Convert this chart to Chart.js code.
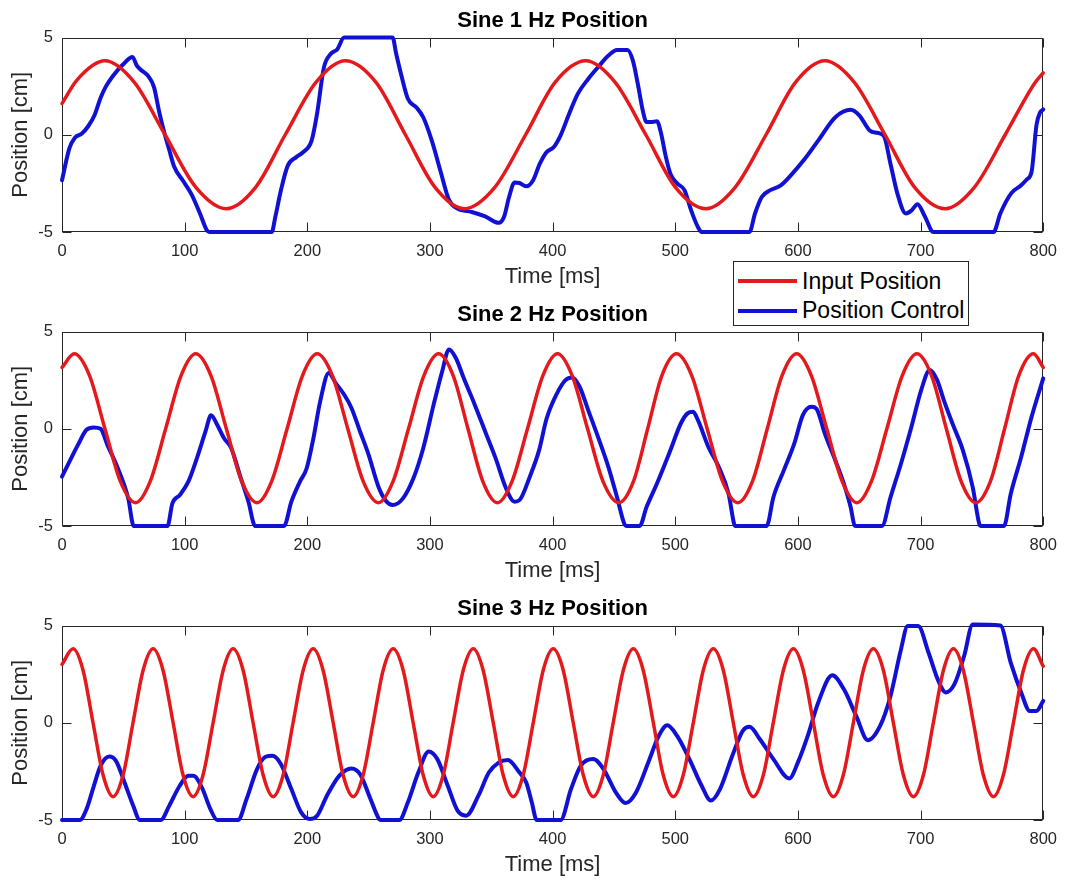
<!DOCTYPE html>
<html>
<head>
<meta charset="utf-8">
<script src="https://cdn.jsdelivr.net/npm/chart.js@4.4.1/dist/chart.umd.min.js"></script>
<style>
  html, body { margin: 0; padding: 0; background: #fff; }
  #page { position: relative; width: 1067px; height: 883px; overflow: hidden; }
  #page canvas { position: absolute; left: 0; }
  #legend {
    position: absolute; left: 733px; top: 261px; width: 236px; height: 65px;
    box-sizing: border-box; border: 1px solid #262626; background: #fff; z-index: 5;
    font-family: "Liberation Sans", Arial, Helvetica, sans-serif; font-size: 23px; color: #000;
  }
  .leg-row { position: absolute; left: 0; height: 26px; display: flex; align-items: center; }
  .leg-line { width: 59px; height: 4px; margin-left: 4px; margin-right: 5px; }
</style>
</head>
<body>
<div id="page">
  <canvas id="c1" width="1067" height="294" style="top:0"></canvas>
  <canvas id="c2" width="1067" height="294" style="top:294px"></canvas>
  <canvas id="c3" width="1067" height="294" style="top:588px"></canvas>
  <div id="legend"></div>
</div>
<script>
// ── data (time in ms, position in cm) ──
const X_TICKS = [0, 100, 200, 300, 400, 500, 600, 700, 800];
const Y_TICKS = [-5, 0, 5];
const TITLES  = ['Sine 1 Hz Position', 'Sine 2 Hz Position', 'Sine 3 Hz Position'];
const SERIES  = ['Input Position', 'Position Control'];

// Sine 1 Hz
const s1InT  = [0, 12, 35, 59, 84, 109, 134, 158, 182, 207, 231, 256, 280, 304, 328, 353, 378, 402, 427, 451, 476, 500, 525, 549, 574, 598, 622, 646, 671, 695, 720, 744, 769, 793, 800];
const s1InV  = [1.6, 2.8, 3.8, 2.69, 0, -2.69, -3.8, -2.69, 0, 2.69, 3.8, 2.69, 0, -2.69, -3.8, -2.69, 0, 2.69, 3.8, 2.69, 0, -2.69, -3.8, -2.69, 0, 2.69, 3.8, 2.69, 0, -2.69, -3.8, -2.69, 0, 2.65, 3.18];
const s1OutT = [0, 6, 10.5, 16, 21.5, 26.5, 31.5, 35.5, 42.5, 49.5, 57.5, 61, 65, 70.5, 75, 79, 83, 87.5, 91.5, 98.5, 105.5, 112.5, 118, 120, 171, 174, 178.5, 184, 191, 196.5, 203.5, 208, 213.5, 219, 224.5, 230, 269.5, 272.5, 276.5, 282, 289, 294.5, 301.5, 308.5, 315.5, 322.5, 334, 345, 356, 360.5, 364.5, 369, 373, 378.5, 384, 389.5, 395, 401, 406.5, 413.5, 420.5, 429, 437, 445.5, 452.5, 461, 465.5, 469.5, 473.5, 476.5, 480.5, 485, 488.5, 492, 496, 501.5, 507.5, 513, 518.5, 521.5, 560.5, 565, 570.5, 577.5, 586, 594, 605.5, 616.5, 630.5, 643, 650, 658.5, 664.5, 670, 675.5, 681, 688, 692.5, 697.5, 703.5, 710.5, 759.5, 765, 774, 782, 786.5, 790.5, 794.5, 797.5, 800];
const s1OutV = [-2.34, -0.7, -0.15, 0.05, 0.45, 1.0, 1.9, 2.45, 3.1, 3.6, 4.0, 3.55, 3.3, 3.0, 2.45, 1.25, 0.2, -0.8, -1.65, -2.35, -3.05, -4.05, -4.9, -5, -5, -4.2, -2.85, -1.6, -1.15, -0.9, -0.3, 1.1, 3.45, 4.15, 4.4, 5, 5, 4.15, 3.1, 1.85, 1.4, 0.9, -0.3, -1.85, -3.35, -3.8, -3.97, -4.2, -4.53, -4.2, -3.2, -2.45, -2.48, -2.65, -2.35, -1.5, -0.9, -0.63, -0.03, 1.08, 2.1, 2.87, 3.47, 4.07, 4.36, 4.36, 3.8, 2.6, 1.25, 0.65, 0.65, 0.7, 0.05, -1.05, -2.0, -2.5, -2.85, -3.9, -4.75, -5, -5, -4.05, -3.2, -2.85, -2.6, -2.1, -1.25, -0.3, 0.9, 1.28, 1.0, 0.22, 0.1, -0.05, -1.5, -3.0, -4.05, -3.9, -3.57, -4.2, -5, -5, -4.05, -3.0, -2.6, -2.3, -1.9, 0.5, 1.15, 1.3];

// Sine 2 Hz
const s2InT  = [0, 10, 22.5, 35, 47.5, 60, 72, 84.5, 97, 109, 121.5, 134, 146.5, 159, 171, 183.5, 196, 208, 220.5, 233, 245.5, 258, 270, 282.5, 295, 307, 319, 331, 343, 355, 367, 379.5, 392, 404, 416, 428.5, 441, 454, 466, 477.5, 489, 501, 513.5, 526, 538.5, 551, 563, 575, 587, 599, 611, 623.5, 636, 648, 660, 672.5, 685, 697, 709, 721, 733, 745, 757, 768.5, 780, 792, 800];
const s2InV  = [3.15, 3.85, 2.72, 0, -2.69, -3.8, -2.69, 0, 2.72, 3.85, 2.72, 0, -2.69, -3.8, -2.69, 0, 2.72, 3.85, 2.72, 0, -2.69, -3.8, -2.69, 0, 2.72, 3.85, 2.72, 0, -2.69, -3.8, -2.69, 0, 2.72, 3.85, 2.72, 0, -2.69, -3.8, -2.69, 0, 2.72, 3.85, 2.72, 0, -2.69, -3.8, -2.69, 0, 2.72, 3.85, 2.72, 0, -2.69, -3.8, -2.69, 0, 2.72, 3.85, 2.72, 0, -2.69, -3.8, -2.69, 0, 2.72, 3.85, 3.15];
const s2OutT = [0, 6, 13, 20, 26, 31.5, 37, 45.5, 54, 58.5, 86, 90, 96, 103, 110, 117, 121.5, 126.5, 132, 138, 145, 152, 157.5, 181, 187, 194, 199.5, 205, 210.5, 217.5, 223, 230, 236, 243, 250, 258, 264, 269.5, 278, 286.5, 294.5, 303, 310, 315.5, 321, 328, 336.5, 345, 353.5, 362, 369, 373, 381.5, 389, 395, 403.5, 410.5, 416, 422, 429, 437, 445.5, 452.5, 458.5, 460, 471, 476.5, 485, 496, 504.5, 510, 514.5, 518.5, 527, 535.5, 543.5, 548, 549, 574.5, 580, 588.5, 597, 604, 611, 615, 622, 630.5, 637.5, 643, 646, 647, 668.5, 675.5, 684, 692.5, 700.5, 707.5, 713.5, 719, 726, 734.5, 742.5, 748, 749, 768, 773.5, 782, 790.5, 800];
const s2OutV = [-2.46, -1.7, -0.83, -0.05, 0.07, 0.0, -0.83, -2.03, -3.58, -5, -5, -3.84, -3.41, -2.72, -1.51, -0.14, 0.69, 0.21, -0.48, -1.0, -2.38, -3.75, -5, -5, -3.75, -2.72, -2.03, -0.48, 1.41, 2.87, 2.36, 1.76, 1.07, -0.14, -1.34, -2.98, -3.7, -3.92, -3.58, -2.55, -1.0, 1.24, 2.96, 4.08, 3.65, 2.53, 1.24, -0.14, -1.51, -3.06, -3.75, -3.67, -2.45, -1.1, 0.5, 1.81, 2.5, 2.64, 2.16, 0.96, -0.42, -1.97, -3.52, -4.9, -5, -5, -4.04, -2.83, -1.11, 0.27, 0.79, 0.87, 0.44, -0.94, -1.97, -3.35, -4.9, -5, -5, -3.52, -2.14, -0.77, 0.7, 1.13, 1.04, -0.26, -1.63, -2.83, -4.04, -4.95, -5, -5, -3.52, -1.8, 0.09, 1.99, 3.02, 2.5, 1.46, 0.27, -1.11, -3.0, -4.93, -5, -5, -3.35, -1.45, 0.61, 2.59];

// Sine 3 Hz
const s3InT  = [0, 9, 17.2, 25.3, 33.5, 41.6, 49.8, 57.9, 66.1, 74.3, 82.4, 90.6, 98.7, 106.9, 115, 123.2, 131.4, 139.5, 147.7, 155.8, 164, 172.1, 180.3, 188.4, 196.6, 204.8, 212.9, 221.1, 229.2, 237.4, 245.5, 253.7, 261.8, 270, 278.2, 286.3, 294.5, 302.6, 310.8, 318.9, 327.1, 335.3, 343.4, 351.6, 359.7, 367.9, 376, 384.2, 392.3, 400.5, 408.7, 416.8, 425, 433.1, 441.3, 449.4, 457.6, 465.8, 473.9, 482.1, 490.2, 498.4, 506.5, 514.7, 522.8, 531, 539.2, 547.3, 555.5, 563.6, 571.8, 579.9, 588.1, 596.3, 604.4, 612.6, 620.7, 628.9, 637, 645.2, 653.3, 661.5, 669.7, 677.8, 686, 694.1, 702.3, 710.4, 718.6, 726.8, 734.9, 743.1, 751.2, 759.4, 767.5, 775.7, 783.8, 792, 800];
const s3InV  = [3.0, 3.8, 2.69, 0, -2.69, -3.8, -2.69, 0, 2.69, 3.8, 2.69, 0, -2.69, -3.8, -2.69, 0, 2.69, 3.8, 2.69, 0, -2.69, -3.8, -2.69, 0, 2.69, 3.8, 2.69, 0, -2.69, -3.8, -2.69, 0, 2.69, 3.8, 2.69, 0, -2.69, -3.8, -2.69, 0, 2.69, 3.8, 2.69, 0, -2.69, -3.8, -2.69, 0, 2.69, 3.8, 2.69, 0, -2.69, -3.8, -2.69, 0, 2.69, 3.8, 2.69, 0, -2.69, -3.8, -2.69, 0, 2.69, 3.8, 2.69, 0, -2.69, -3.8, -2.69, 0, 2.69, 3.8, 2.69, 0, -2.69, -3.8, -2.69, 0, 2.69, 3.8, 2.69, 0, -2.69, -3.8, -2.69, 0, 2.69, 3.8, 2.69, 0, -2.69, -3.8, -2.69, 0, 2.69, 3.8, 2.9];
const s3OutT = [0, 14.5, 20, 26, 31.5, 38.5, 44, 51, 58, 63.5, 80.5, 87.5, 96, 103, 107, 114, 121, 126.5, 143.5, 150.5, 159, 166, 171.5, 178.5, 187, 195, 202, 208, 216, 226, 236, 243, 251.5, 258.5, 260, 275, 282, 290.5, 299, 306, 314.5, 322.5, 329.5, 339.5, 348, 356, 363.5, 373, 378.5, 383, 387, 406.5, 415, 423, 433, 441.5, 451.5, 459.5, 468, 478, 486.5, 493.5, 501.5, 511.5, 521.5, 529, 536.5, 546.5, 555, 560.5, 569, 580, 593, 600, 608, 616.5, 628, 637.5, 647.5, 657, 667, 675.5, 684, 689.5, 698, 706.5, 714.5, 720.5, 727.5, 735.5, 742.5, 765, 773.5, 782, 789, 794.5, 800];
const s3OutV = [-5, -5, -4.44, -3.24, -2.21, -1.74, -1.96, -3.07, -4.26, -5, -5, -4.26, -3.24, -2.73, -2.73, -3.32, -4.44, -5, -5, -3.92, -2.38, -1.75, -1.7, -2.13, -3.41, -4.61, -4.95, -4.78, -3.75, -2.73, -2.35, -2.64, -3.92, -4.95, -5, -5, -4.09, -2.56, -1.48, -1.87, -3.24, -4.52, -4.78, -3.75, -2.56, -2.05, -1.91, -2.56, -3.07, -4.09, -5, -5, -3.41, -2.21, -1.87, -2.38, -3.58, -4.13, -3.58, -2.04, -0.68, -0.13, -0.68, -1.87, -3.24, -4.0, -3.41, -1.7, -0.42, -0.21, -0.85, -1.87, -2.86, -2.04, -0.68, 1.03, 2.44, 1.72, 0.35, -0.9, -0.16, 1.38, 3.77, 4.97, 4.97, 3.6, 2.15, 1.56, 1.97, 3.43, 5.05, 5.0, 3.09, 1.56, 0.61, 0.61, 1.12];

const RED  = '#e3191c';
const BLUE = '#1111d4';
const AXIS = '#262626';
const FONT = '"Liberation Sans", Arial, Helvetica, sans-serif';
const TICK = 9;

Chart.defaults.font.family = FONT;

const pts = (ts, vs) => ts.map((t, i) => ({ x: t, y: vs[i] }));

// MATLAB style box with inward ticks on all four sides
const frame = {
  id: 'frame',
  beforeDatasetsDraw(chart) {
    const { ctx, chartArea: a, scales: { x, y } } = chart;
    const l = Math.round(a.left) + .5, r = Math.round(a.right) - .5;
    const t = Math.round(a.top) + .5,  b = Math.round(a.bottom) - .5;
    ctx.save();
    ctx.strokeStyle = AXIS;
    ctx.lineWidth = 1;
    ctx.strokeRect(l, t, r - l, b - t);
    ctx.beginPath();
    x.ticks.forEach(tk => {
      const px = Math.round(x.getPixelForValue(tk.value)) + .5;
      ctx.moveTo(px, b); ctx.lineTo(px, b - TICK);
      ctx.moveTo(px, t); ctx.lineTo(px, t + TICK);
    });
    y.ticks.forEach(tk => {
      const py = Math.round(y.getPixelForValue(tk.value)) + .5;
      ctx.moveTo(l, py); ctx.lineTo(l + TICK, py);
      ctx.moveTo(r, py); ctx.lineTo(r - TICK, py);
    });
    ctx.stroke();
    ctx.restore();
  }
};

function makeChart(id, title, inT, inV, outT, outV) {
  return new Chart(document.getElementById(id), {
    type: 'line',
    data: {
      datasets: [
        { label: SERIES[0], data: pts(inT, inV), borderColor: RED, backgroundColor: RED, borderWidth: 3.5 },
        { label: SERIES[1], data: pts(outT, outV), borderColor: BLUE, backgroundColor: BLUE, borderWidth: 4 },
      ]
    },
    options: {
      responsive: false,
      animation: false,
      devicePixelRatio: 1,
      layout: { padding: { left: 0, right: 22.5, top: 0, bottom: 0 } },
      elements: {
        point: { radius: 0 },
        line: { cubicInterpolationMode: 'monotone', borderJoinStyle: 'round', borderCapStyle: 'round' }
      },
      datasets: { line: { clip: 6 } },
      plugins: {
        legend: { display: false },
        tooltip: { enabled: false },
        title: {
          display: true, text: title, fullSize: false, color: '#000',
          font: { size: 22, weight: 'bold' },
          padding: { top: 7.3, bottom: 3.8 }
        }
      },
      scales: {
        x: {
          type: 'linear', min: 0, max: 800,
          afterBuildTicks: s => { s.ticks = X_TICKS.map(v => ({ value: v })); },
          afterFit: s => { s.height = 62; },
          grid: { display: false, drawTicks: false },
          border: { display: false },
          ticks: { color: AXIS, font: { size: 16.5 }, padding: 10, maxRotation: 0 },
          title: { display: true, text: 'Time [ms]', color: AXIS, font: { size: 22 }, padding: { top: 0, bottom: 3.5 } }
        },
        y: {
          min: -5, max: 5,
          afterBuildTicks: s => { s.ticks = Y_TICKS.map(v => ({ value: v })); },
          afterFit: s => { s.width = 62; },
          grid: { display: false, drawTicks: false },
          border: { display: false },
          ticks: { color: AXIS, font: { size: 16.5 }, padding: 9 },
          title: { display: true, text: 'Position [cm]', color: AXIS, font: { size: 22 }, padding: { top: 7.8, bottom: 0 } }
        }
      }
    },
    plugins: [frame]
  });
}

const charts = [
  makeChart('c1', TITLES[0], s1InT, s1InV, s1OutT, s1OutV),
  makeChart('c2', TITLES[1], s2InT, s2InV, s2OutT, s2OutV),
  makeChart('c3', TITLES[2], s3InT, s3InV, s3OutT, s3OutV),
];

// legend box sits between the first and second axes, as in the figure
const legend = document.getElementById('legend');
charts[0].data.datasets.forEach((ds, i) => {
  const row = document.createElement('div');
  row.className = 'leg-row';
  row.style.top = (6 + i * 29.5) + 'px';
  row.innerHTML = `<span class="leg-line" style="background:${ds.borderColor}"></span><span>${ds.label}</span>`;
  legend.appendChild(row);
});
</script>
</body>
</html>
